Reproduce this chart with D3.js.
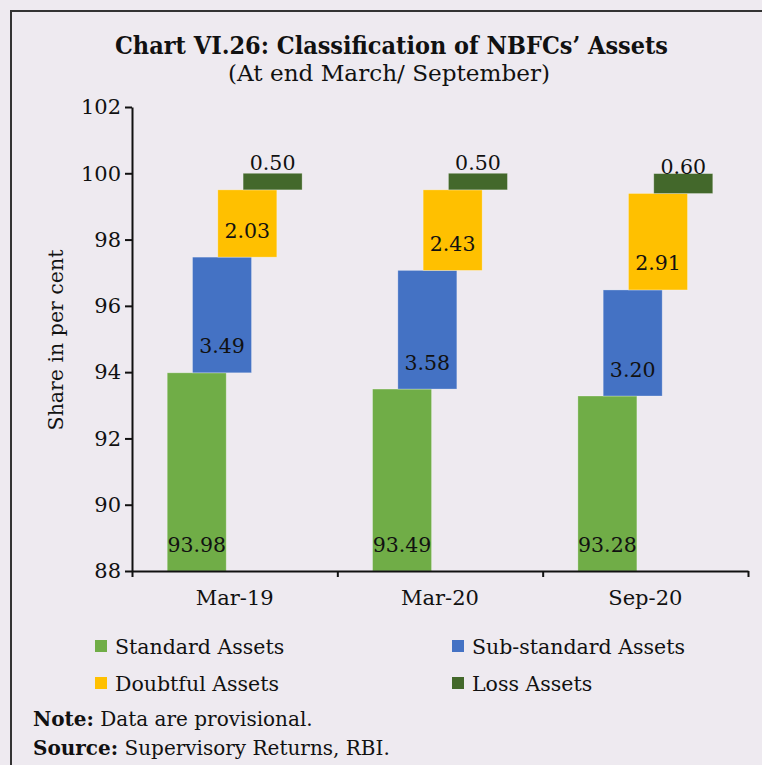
<!DOCTYPE html>
<html>
<head>
<meta charset="utf-8">
<script src="https://cdn.jsdelivr.net/npm/d3@7"></script>
<style>
  html, body { margin: 0; padding: 0; background: #EEEAF0; }
  svg { display: block; }
  text { font-family: "DejaVu Serif", serif; fill: #111; }
</style>
</head>
<body>
<svg id="chart" width="762" height="765"></svg>
<script>
// ---- Data ----
const categories = ["Mar-19", "Mar-20", "Sep-20"];
const standardAssets = [93.98, 93.49, 93.28];
const subStandardAssets = [3.49, 3.58, 3.20];
const doubtfulAssets = [2.03, 2.43, 2.91];
const lossAssets = [0.50, 0.50, 0.60];
const seriesNames = ["Standard Assets", "Sub-standard Assets", "Doubtful Assets", "Loss Assets"];
const seriesColors = ["#70AD47", "#4472C4", "#FFC000", "#43682B"];
const yTicks = [88, 90, 92, 94, 96, 98, 100, 102];
const titleText = "Chart VI.26: Classification of NBFCs\u2019 Assets";
const subtitleText = "(At end March/ September)";
const yLabel = "Share in per cent";

const seriesValues = [standardAssets, subStandardAssets, doubtfulAssets, lossAssets];

const svg = d3.select("#chart");

// background + frame
svg.append("rect").attr("width", 762).attr("height", 765).attr("fill", "#EEEAF0");
svg.append("path").attr("d", "M11,765 L11,11 L762,11")
  .attr("fill", "none").attr("stroke", "#333").attr("stroke-width", 2);

// titles
svg.append("text").attr("x", 391.5).attr("y", 54).attr("text-anchor", "middle")
  .attr("font-size", 24).attr("font-weight", "bold")
  .attr("textLength", 553).attr("lengthAdjust", "spacingAndGlyphs")
  .text(titleText);
svg.append("text").attr("x", 389).attr("y", 81).attr("text-anchor", "middle")
  .attr("font-size", 23)
  .attr("textLength", 322).attr("lengthAdjust", "spacingAndGlyphs")
  .text(subtitleText);

// scales
const plotLeft = 132, plotRight = 748, plotTop = 107, plotBottom = 571;
const y = d3.scaleLinear().domain([88, 102]).range([plotBottom, plotTop]);
const x = d3.scaleBand().domain(categories).range([plotLeft, plotRight]).padding(0);
const xb = d3.scaleLinear().domain([0, categories.length]).range([plotLeft, plotRight]);

const bw = x.bandwidth();
const barW = bw * 0.2873;
const step = bw * 0.1232;
const groupW = barW + step * 3;
const groupOff = (bw - groupW) / 2;

// bars
const rows = [];
categories.forEach((c, i) => {
  let base = 0;
  seriesValues.forEach((vals, s) => {
    const v = vals[i];
    rows.push({ cat: c, s, v, base, top: base + v });
    base += v;
  });
});

const g = svg.append("g");
g.selectAll("rect.bar").data(rows).join("rect")
  .attr("class", "bar")
  .attr("x", d => x(d.cat) + groupOff + d.s * step)
  .attr("width", barW)
  .attr("y", d => y(Math.min(d.top, 102)))
  .attr("height", d => y(Math.max(d.base, 88)) - y(Math.min(d.top, 102)))
  .attr("fill", d => seriesColors[d.s])
  .attr("stroke", "rgba(255,255,255,0.35)")
  .attr("stroke-width", 0.8);

g.selectAll("text.lbl").data(rows).join("text")
  .attr("class", "lbl")
  .attr("x", d => x(d.cat) + groupOff + d.s * step + barW / 2)
  .attr("y", d => y(Math.max(d.base, 88)) - 19.5)
  .attr("text-anchor", "middle")
  .attr("font-size", 20.5)
  .text(d => d.v.toFixed(2));

// y axis
const yAxis = svg.append("g").attr("transform", `translate(${plotLeft},0)`)
  .call(d3.axisLeft(y).tickValues(yTicks).tickSize(7).tickSizeOuter(0).tickPadding(4));
yAxis.selectAll("text").attr("font-size", 21).attr("font-family", "DejaVu Serif").attr("fill", "#111");
yAxis.selectAll("line, path").attr("stroke", "#111").attr("stroke-width", 2);

// x axis (boundary ticks)
const xAxis = svg.append("g").attr("transform", `translate(0,${plotBottom})`)
  .call(d3.axisBottom(xb).tickValues(d3.range(categories.length + 1)).tickSize(6).tickSizeOuter(0).tickFormat(""));
xAxis.selectAll("line, path").attr("stroke", "#111").attr("stroke-width", 2);

// x axis labels
const xLab = svg.append("g").attr("transform", `translate(0,${plotBottom})`)
  .call(d3.axisBottom(x).tickSize(0).tickPadding(19));
xLab.select(".domain").remove();
xLab.selectAll("text").attr("font-size", 21).attr("font-family", "DejaVu Serif").attr("fill", "#111");

// y label
svg.append("text")
  .attr("transform", "translate(63,340) rotate(-90)")
  .attr("text-anchor", "middle")
  .attr("font-size", 20.5)
  .text(yLabel);

// legend
const legendPos = [[95, 640], [452, 640], [95, 677], [452, 677]];
const lg = svg.append("g");
seriesNames.forEach((n, i) => {
  const [lx, ly] = legendPos[i];
  lg.append("rect").attr("x", lx).attr("y", ly).attr("width", 12).attr("height", 12).attr("fill", seriesColors[i]);
  lg.append("text").attr("x", lx + 20).attr("y", ly + 14).attr("font-size", 20.5).text(n);
});

// notes
const note = svg.append("text").attr("x", 33).attr("y", 726).attr("font-size", 20);
note.append("tspan").attr("font-weight", "bold").text("Note:");
note.append("tspan").text(" Data are provisional.");
const src = svg.append("text").attr("x", 33).attr("y", 755).attr("font-size", 20);
src.append("tspan").attr("font-weight", "bold").text("Source:");
src.append("tspan").text(" Supervisory Returns, RBI.");
</script>
</body>
</html>
